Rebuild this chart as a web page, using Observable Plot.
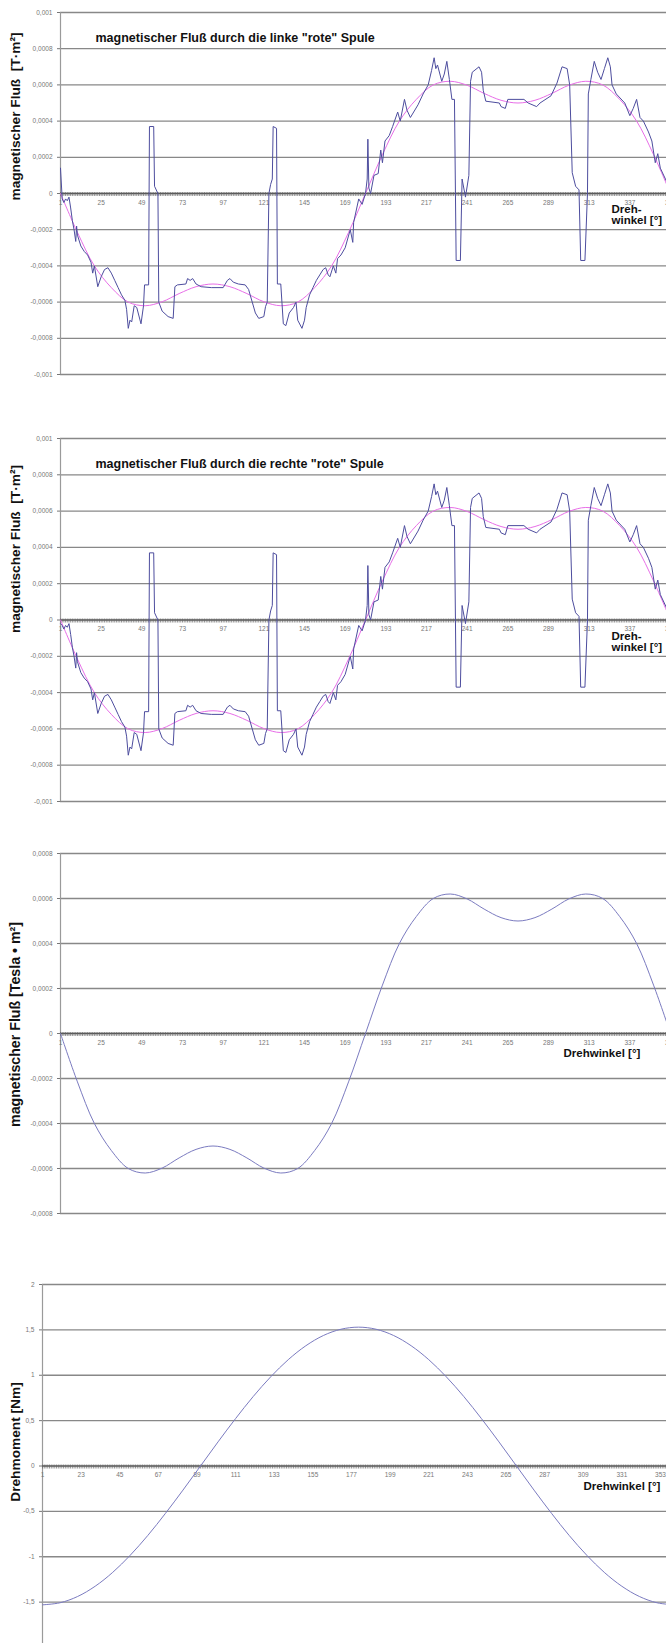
<!DOCTYPE html>
<html><head><meta charset="utf-8">
<script src="https://cdn.jsdelivr.net/npm/d3@7"></script>
<script src="https://cdn.jsdelivr.net/npm/@observablehq/plot@0.6"></script>
<style>
html,body{margin:0;padding:0;background:#fff;overflow:hidden;width:666px;height:1643px;}
#root{position:relative;width:666px;height:1643px;overflow:hidden;}
.chart{position:absolute;left:0;max-width:none !important;}
</style></head><body><div id="root"></div>
<script>
// ---------- data ----------
const fluxTicks = [-0.001, -0.0008, -0.0006, -0.0004, -0.0002, 0, 0.0002, 0.0004, 0.0006, 0.0008, 0.001];
const flux3Ticks = [-0.0008, -0.0006, -0.0004, -0.0002, 0, 0.0002, 0.0004, 0.0006, 0.0008];
const torqueTicks = [-2, -1.5, -1, -0.5, 0, 0.5, 1, 1.5, 2];
const angleLabels24 = [1, 25, 49, 73, 97, 121, 145, 169, 193, 217, 241, 265, 289, 313, 337, 361];
const angleLabels22 = [1, 23, 45, 67, 89, 111, 133, 155, 177, 199, 221, 243, 265, 287, 309, 331, 353];

// measured flux, left coil [angle, flux]
const leftCoilMeasured = [
[1,1.4e-4],[2,-0.3e-4],[3,-0.5e-4],[4,-0.3e-4],[5,-0.4e-4],[6,-0.2e-4],[7,-0.8e-4],[8,-1.5e-4],[9,-2.0e-4],[10,-2.65e-4],[10.5,-1.8e-4],[11,-2.3e-4],[13,-2.9e-4],[15,-3.2e-4],[17,-3.4e-4],[19,-3.8e-4],[20,-4.4e-4],[21,-4.0e-4],[23,-5.15e-4],[25,-4.6e-4],[27,-4.2e-4],[29,-4.1e-4],[31,-4.4e-4],[33,-4.8e-4],[35,-5.2e-4],[37,-5.6e-4],[39,-5.9e-4],[40,-6.4e-4],[41,-7.45e-4],[42,-7.0e-4],[43,-7.1e-4],[44.5,-6.2e-4],[46,-6.3e-4],[48.5,-7.2e-4],[50,-6.2e-4],[50.6,-5.05e-4],[53,-5.05e-4],[53.5,3.7e-4],[56,3.7e-4],[56.5,0.4e-4],[58.5,0],[59,-6.0e-4],[61,-6.5e-4],[64.5,-6.8e-4],[67.5,-6.9e-4],[68.5,-5.15e-4],[70,-5.05e-4],[75,-5.0e-4],[76,-4.7e-4],[77.5,-4.8e-4],[79,-4.7e-4],[81,-5.0e-4],[84,-5.15e-4],[90,-5.2e-4],[97,-5.2e-4],[99.5,-4.8e-4],[101,-4.7e-4],[103,-4.9e-4],[106,-5.0e-4],[110,-5.05e-4],[112,-5.3e-4],[116,-6.6e-4],[118,-6.9e-4],[121,-6.8e-4],[122,-6.25e-4],[123,-6.0e-4],[124,0],[125,0.5e-4],[126,0.8e-4],[126.5,3.7e-4],[128.5,3.6e-4],[129,-5.0e-4],[131,-5.0e-4],[132.5,-7.2e-4],[134,-7.3e-4],[136,-6.6e-4],[138.5,-6.3e-4],[140,-6.0e-4],[141,-7.0e-4],[143.5,-7.45e-4],[145,-7.0e-4],[146,-6.3e-4],[148,-5.6e-4],[150,-5.2e-4],[152,-4.8e-4],[154,-4.5e-4],[156,-4.2e-4],[157.5,-4.1e-4],[159,-4.5e-4],[160,-4.6e-4],[162,-4.0e-4],[163.5,-4.4e-4],[164.5,-3.6e-4],[166.5,-3.4e-4],[169,-3.0e-4],[172,-2.0e-4],[173.5,-2.7e-4],[174,-1.6e-4],[177,-0.3e-4],[179,-0.6e-4],[181,0],[182,0.8e-4],[182.4,3.0e-4],[183,0.3e-4],[184,0],[186,1.0e-4],[188.5,1.1e-4],[190,2.4e-4],[191,1.7e-4],[192.5,2.9e-4],[195,3.2e-4],[197,3.7e-4],[200,4.5e-4],[201.5,4.0e-4],[204,5.2e-4],[205.5,4.6e-4],[207.5,4.2e-4],[212,4.9e-4],[215,5.5e-4],[218,6.0e-4],[220,6.8e-4],[221.5,7.5e-4],[222.5,6.9e-4],[223.5,7.1e-4],[226,6.2e-4],[227.5,6.6e-4],[229,7.3e-4],[230.5,6.3e-4],[232,5.2e-4],[233.5,5.2e-4],[234.5,-3.7e-4],[237,-3.7e-4],[238,0.8e-4],[240,-0.2e-4],[242,1.0e-4],[243,6.2e-4],[244,6.7e-4],[248,7.0e-4],[249.5,6.7e-4],[250.5,5.7e-4],[252,5.1e-4],[260,5.0e-4],[261,4.8e-4],[263.5,4.7e-4],[265,5.2e-4],[274.5,5.2e-4],[277,5.0e-4],[282,4.8e-4],[284,5.0e-4],[290.5,5.4e-4],[294,6.1e-4],[297,7.0e-4],[300,6.9e-4],[301.5,6.0e-4],[303,1.15e-4],[305,0.4e-4],[307,0.2e-4],[308,-3.7e-4],[310.5,-3.7e-4],[312,0],[312.5,5.5e-4],[314,6.3e-4],[316,7.3e-4],[318,6.7e-4],[320,6.3e-4],[322,6.9e-4],[324,7.5e-4],[325.5,7.0e-4],[326.5,6.0e-4],[329,5.5e-4],[334,5.0e-4],[337,4.3e-4],[339,4.7e-4],[341,5.2e-4],[343,4.2e-4],[345,4.0e-4],[348,3.4e-4],[350,2.9e-4],[352,1.7e-4],[353.5,2.2e-4],[355,1.4e-4],[359,0.6e-4],[361,0.4e-4]
];

// measured flux, right coil [angle, flux]
const rightCoilMeasured = [
[1,-0.2e-4],[2,-0.3e-4],[3,-0.5e-4],[4,-0.3e-4],[5,-0.4e-4],[6,-0.2e-4],[7,-0.8e-4],[8,-1.5e-4],[9,-2.0e-4],[10,-2.65e-4],[10.5,-1.8e-4],[11,-2.3e-4],[13,-2.9e-4],[15,-3.2e-4],[17,-3.4e-4],[19,-3.8e-4],[20,-4.4e-4],[21,-4.0e-4],[23,-5.15e-4],[25,-4.6e-4],[27,-4.2e-4],[29,-4.1e-4],[31,-4.4e-4],[33,-4.8e-4],[35,-5.2e-4],[37,-5.6e-4],[39,-5.9e-4],[40,-6.4e-4],[41,-7.45e-4],[42,-7.0e-4],[43,-7.1e-4],[44.5,-6.2e-4],[46,-6.3e-4],[48.5,-7.2e-4],[50,-6.2e-4],[50.6,-5.05e-4],[53,-5.05e-4],[53.5,3.7e-4],[56,3.7e-4],[56.5,0.4e-4],[58.5,0],[59,-6.0e-4],[61,-6.5e-4],[64.5,-6.8e-4],[67.5,-6.9e-4],[68.5,-5.15e-4],[70,-5.05e-4],[75,-5.0e-4],[76,-4.7e-4],[77.5,-4.8e-4],[79,-4.7e-4],[81,-5.0e-4],[84,-5.15e-4],[90,-5.2e-4],[97,-5.2e-4],[99.5,-4.8e-4],[101,-4.7e-4],[103,-4.9e-4],[106,-5.0e-4],[110,-5.05e-4],[112,-5.3e-4],[116,-6.6e-4],[118,-6.9e-4],[121,-6.8e-4],[122,-6.25e-4],[123,-6.0e-4],[124,0],[125,0.5e-4],[126,0.8e-4],[126.5,3.7e-4],[128.5,3.6e-4],[129,-5.0e-4],[131,-5.0e-4],[132.5,-7.2e-4],[134,-7.3e-4],[136,-6.6e-4],[138.5,-6.3e-4],[140,-6.0e-4],[141,-7.0e-4],[143.5,-7.45e-4],[145,-7.0e-4],[146,-6.3e-4],[148,-5.6e-4],[150,-5.2e-4],[152,-4.8e-4],[154,-4.5e-4],[156,-4.2e-4],[157.5,-4.1e-4],[159,-4.5e-4],[160,-4.6e-4],[162,-4.0e-4],[163.5,-4.4e-4],[164.5,-3.6e-4],[166.5,-3.4e-4],[169,-3.0e-4],[172,-2.0e-4],[173.5,-2.7e-4],[174,-1.6e-4],[177,-0.3e-4],[179,-0.6e-4],[181,0],[182,0.8e-4],[182.4,3.0e-4],[183,0.3e-4],[184,0],[186,1.0e-4],[188.5,1.1e-4],[190,2.4e-4],[191,1.7e-4],[192.5,2.9e-4],[195,3.2e-4],[197,3.7e-4],[200,4.5e-4],[201.5,4.0e-4],[204,5.2e-4],[205.5,4.6e-4],[207.5,4.2e-4],[212,4.9e-4],[215,5.5e-4],[218,6.0e-4],[220,6.8e-4],[221.5,7.5e-4],[222.5,6.9e-4],[223.5,7.1e-4],[226,6.2e-4],[227.5,6.6e-4],[229,7.3e-4],[230.5,6.3e-4],[232,5.2e-4],[233.5,5.2e-4],[234.5,-3.7e-4],[237,-3.7e-4],[238,0.8e-4],[240,-0.2e-4],[242,1.0e-4],[243,6.2e-4],[244,6.7e-4],[248,7.0e-4],[249.5,6.7e-4],[250.5,5.7e-4],[252,5.1e-4],[260,5.0e-4],[261,4.8e-4],[263.5,4.7e-4],[265,5.2e-4],[274.5,5.2e-4],[277,5.0e-4],[282,4.8e-4],[284,5.0e-4],[290.5,5.4e-4],[294,6.1e-4],[297,7.0e-4],[300,6.9e-4],[301.5,6.0e-4],[303,1.15e-4],[305,0.4e-4],[307,0.2e-4],[308,-3.7e-4],[310.5,-3.7e-4],[312,0],[312.5,5.5e-4],[314,6.3e-4],[316,7.3e-4],[318,6.7e-4],[320,6.3e-4],[322,6.9e-4],[324,7.5e-4],[325.5,7.0e-4],[326.5,6.0e-4],[329,5.5e-4],[334,5.0e-4],[337,4.3e-4],[339,4.7e-4],[341,5.2e-4],[343,4.2e-4],[345,4.0e-4],[348,3.4e-4],[350,2.9e-4],[352,1.7e-4],[353.5,2.2e-4],[355,1.4e-4],[359,0.6e-4],[361,0.4e-4]
];

// smoothed flux (pink fit and third chart)
const smoothAngle = [1,11,21,31,41,51,61,71,81,91,101,111,121,131,141,151,161,171,181,191,201,211,221,231,241,251,261,271,281,291,301,311,321,331,341,351,361];
const smoothFlux = [0,-2.15e-4,-4.0e-4,-5.2e-4,-6.0e-4,-6.2e-4,-5.98e-4,-5.53e-4,-5.15e-4,-5.0e-4,-5.15e-4,-5.53e-4,-5.98e-4,-6.2e-4,-6.0e-4,-5.2e-4,-4.0e-4,-2.15e-4,0,2.15e-4,4.0e-4,5.2e-4,6.0e-4,6.2e-4,5.98e-4,5.53e-4,5.15e-4,5.0e-4,5.15e-4,5.53e-4,5.98e-4,6.2e-4,6.0e-4,5.2e-4,4.0e-4,2.15e-4,0];

// torque
const torqueAngle = [1,11,21,31,41,51,61,71,81,91,101,111,121,131,141,151,161,171,181,191,201,211,221,231,241,251,261,271,281,291,301,311,321,331,341,351,361];
const torque = [-1.53,-1.507,-1.438,-1.325,-1.172,-0.983,-0.765,-0.523,-0.266,0,0.266,0.523,0.765,0.983,1.172,1.325,1.438,1.507,1.53,1.507,1.438,1.325,1.172,0.983,0.765,0.523,0.266,0,-0.266,-0.523,-0.765,-0.983,-1.172,-1.325,-1.438,-1.507,-1.53];

// ---------- drawing ----------
const FONT = "'Liberation Sans', Arial, sans-serif";
const fmt = d => String(d).replace(".", ",");
const smoothData = smoothAngle.map((a, i) => ({a, v: smoothFlux[i]}));
const torqueData = torqueAngle.map((a, i) => ({a, v: torque[i]}));

function chart(o) {
  const plot = Plot.plot({
    width: 680, height: o.height,
    marginTop: 12, marginBottom: 10, marginLeft: o.left, marginRight: o.right,
    style: {fontFamily: FONT, background: "transparent", overflow: "visible"},
    x: {domain: [1, 361], axis: null},
    y: {domain: o.yDomain, axis: null},
    marks: [
      Plot.ruleY(o.yTicks.filter(d => d !== 0), {stroke: "#888", strokeWidth: 1.3}),
      Plot.ruleX([1], {stroke: "#9a9a9a", strokeWidth: 1.2}),
      Plot.axisY({ticks: o.yTicks, label: null, tickSize: 3, tickPadding: 5, tickFormat: fmt, fontSize: 6.5, color: "#777"}),
      Plot.ruleY([0], {stroke: "#555", strokeWidth: 1.3}),
      Plot.ruleX(d3.range(1, 362), {y1: () => 0, y2: () => 0, insetTop: -1, insetBottom: -3, stroke: "#666", strokeWidth: 0.7}),
      Plot.text(o.xLabels, {x: d => d, y: () => 0, dy: 9, fontSize: 6.5, fill: "#777"}),
      ...o.lines,
      o.title ? Plot.text([o.title], {frameAnchor: "top-left", dx: 35, dy: 21, textAnchor: "start", fontWeight: "bold", fontSize: 12.5, fill: "#111"}) : null,
      Plot.text([o.yTitle], {frameAnchor: "left", rotate: -90, dx: o.yTitleDx, dy: o.yTitleDy, textAnchor: "middle", fontWeight: "bold", fontSize: o.yTitleSize, fill: "#111"}),
      Plot.text([o.xTitle], {frameAnchor: "right", y: () => 0, dx: o.xTitleDx, dy: o.xTitleDy, textAnchor: "start", lineAnchor: "top", fontWeight: "bold", fontSize: 11.5, lineHeight: 0.95, fill: "#111"})
    ].filter(Boolean)
  });
  plot.classList.add("chart");
  plot.style.top = o.top + "px";
  plot.style.maxWidth = "none";
  plot.style.width = "680px";
  document.getElementById("root").appendChild(plot);
}

const blueStyle = {stroke: "#4d4d9e", strokeWidth: 1};
const pinkStyle = {stroke: "#e86ee8", strokeWidth: 1, curve: "catmull-rom"};

chart({
  top: 0, height: 384, left: 60, right: 10,
  yDomain: [-0.001, 0.001], yTicks: fluxTicks, xLabels: angleLabels24,
  title: "magnetischer Fluß durch die linke \"rote\" Spule",
  yTitle: "magnetischer Fluß  [T·m²]", yTitleSize: 13.7, yTitleDx: -45, yTitleDy: -77,
  xTitle: "Dreh-\nwinkel [°]", xTitleDx: -59, xTitleDy: 12,
  lines: [
    Plot.line(smoothData, {x: "a", y: "v", ...pinkStyle}),
    Plot.line(leftCoilMeasured, {x: d => d[0], y: d => d[1], ...blueStyle})
  ]
});

chart({
  top: 426, height: 385, left: 60, right: 10,
  yDomain: [-0.001, 0.001], yTicks: fluxTicks, xLabels: angleLabels24,
  title: "magnetischer Fluß durch die rechte \"rote\" Spule",
  yTitle: "magnetischer Fluß  [T·m²]", yTitleSize: 13.7, yTitleDx: -45, yTitleDy: -71,
  xTitle: "Dreh-\nwinkel [°]", xTitleDx: -59, xTitleDy: 12,
  lines: [
    Plot.line(smoothData, {x: "a", y: "v", ...pinkStyle}),
    Plot.line(rightCoilMeasured, {x: d => d[0], y: d => d[1], ...blueStyle})
  ]
});

chart({
  top: 841, height: 382, left: 60, right: 10,
  yDomain: [-0.0008, 0.0008], yTicks: flux3Ticks, xLabels: angleLabels24,
  yTitle: "magnetischer Fluß [Tesla • m²]", yTitleSize: 14.2, yTitleDx: -45, yTitleDy: -9,
  xTitle: "Drehwinkel [°]", xTitleDx: -107, xTitleDy: 16,
  lines: [
    Plot.line(smoothData, {x: "a", y: "v", stroke: "#7b7bc0", strokeWidth: 1, curve: "catmull-rom"})
  ]
});

chart({
  top: 1272, height: 385, left: 42, right: 6,
  yDomain: [-2, 2], yTicks: torqueTicks, xLabels: angleLabels22,
  yTitle: "Drehmoment [Nm]", yTitleSize: 13.7, yTitleDx: -27, yTitleDy: -24,
  xTitle: "Drehwinkel [°]", xTitleDx: -91, xTitleDy: 16,
  lines: [
    Plot.line(torqueData, {x: "a", y: "v", stroke: "#7b7bc0", strokeWidth: 1, curve: "catmull-rom"})
  ]
});
</script>
</body></html>
